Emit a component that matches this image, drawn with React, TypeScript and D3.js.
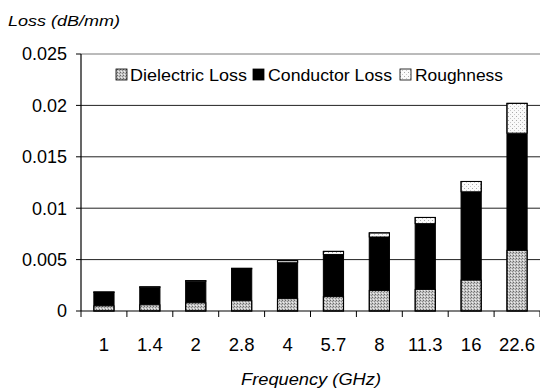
import React from 'react';
import * as d3 from 'd3';

// frequency categories (GHz)
const frequencies = ['1', '1.4', '2', '2.8', '4', '5.7', '8', '11.3', '16', '22.6'];
// stacked loss components (dB/mm)
const dielectricLoss = [0.0005, 0.0006, 0.0008, 0.001, 0.0012, 0.0014, 0.002, 0.0021, 0.003, 0.0059];
const conductorLoss = [0.0013, 0.0017, 0.0021, 0.0031, 0.0035, 0.0041, 0.0052, 0.0064, 0.0086, 0.0114];
const roughnessLoss = [0.00005, 0.00005, 0.00005, 0.00005, 0.0002, 0.0003, 0.0004, 0.0006, 0.001, 0.0029];
const yTicks = [0, 0.005, 0.01, 0.015, 0.02, 0.025];
const seriesNames = ['Dielectric Loss', 'Conductor Loss', 'Roughness'];

const W = 540;
const H = 388;
const margin = { top: 54, right: 0, bottom: 77, left: 81 };
const font = '"Liberation Sans", Arial, sans-serif';

const fills = ['url(#dielPat)', '#000', 'url(#roughPat)'];

export default function App() {
  const x = d3.scaleBand()
    .domain(frequencies)
    .range([margin.left, W - margin.right])
    .paddingInner(0.56)
    .paddingOuter(0.28);
  const y = d3.scaleLinear()
    .domain([0, 0.025])
    .range([H - margin.bottom, margin.top]);

  const rows = frequencies.map((f, i) => ({
    freq: f,
    diel: dielectricLoss[i],
    cond: conductorLoss[i],
    rough: roughnessLoss[i],
  }));
  const stack = d3.stack<any>().keys(['diel', 'cond', 'rough'])(rows);

  const step = x.step();
  const boundaries = frequencies.map((f) => (x(f) as number) - step * 0.28);
  boundaries.push(W - margin.right);

  // legend layout: swatch x, text x, text width
  const legend = [
    { sx: 116, tx: 130, tw: 117 },
    { sx: 253, tx: 268, tw: 124 },
    { sx: 400, tx: 415, tw: 88 },
  ];

  return (
    <svg width={W} height={H} style={{ position: 'absolute', left: 0, top: 0, background: '#fff' }}
      fontFamily={font}>
      <defs>
        <pattern id="dielPat" width="3" height="3" patternUnits="userSpaceOnUse">
          <rect width="3" height="3" fill="#c4c4c4" />
          <rect x="0" y="0" width="1" height="1" fill="#6a6a6a" />
          <rect x="2" y="1" width="1" height="1" fill="#8a8a8a" />
          <rect x="1" y="2" width="1" height="1" fill="#eee" />
        </pattern>
        <pattern id="roughPat" width="4" height="4" patternUnits="userSpaceOnUse">
          <rect width="4" height="4" fill="#fafafa" />
          <rect x="0" y="0" width="1" height="1" fill="#aaa" />
          <rect x="2" y="2" width="1" height="1" fill="#c8c8c8" />
        </pattern>
      </defs>

      <rect x={0} y={0} width={W} height={H} fill="#fff" />

      {/* gridlines */}
      {yTicks.filter((t) => t > 0).map((t) => (
        <line key={t} x1={margin.left} x2={W} y1={y(t)} y2={y(t)}
          stroke={t === 0.025 ? '#777' : '#222'} strokeWidth={1} />
      ))}

      {/* bars */}
      {stack.map((layer, si) => (
        <g key={si}>
          {layer.map((d, i) => (
            <rect key={i}
              x={x(frequencies[i])}
              width={x.bandwidth()}
              y={y(d[1])}
              height={Math.max(0, y(d[0]) - y(d[1]))}
              fill={fills[si]}
              stroke="#000"
              strokeWidth={si === 1 ? 0 : 1} />
          ))}
        </g>
      ))}
      {rows.map((r, i) => (
        <rect key={i} x={x(r.freq)} width={x.bandwidth()}
          y={y(r.diel + r.cond + r.rough)}
          height={y(0) - y(r.diel + r.cond + r.rough)}
          fill="none" stroke="#000" strokeWidth={1} />
      ))}

      {/* axes */}
      <line x1={margin.left} x2={margin.left} y1={margin.top} y2={y(0)} stroke="#000" strokeWidth={1.2} />
      <line x1={margin.left} x2={W} y1={y(0)} y2={y(0)} stroke="#000" strokeWidth={1.2} />
      {yTicks.map((t) => (
        <g key={t}>
          <line x1={margin.left - 5} x2={margin.left} y1={y(t)} y2={y(t)} stroke="#000" />
          <text x={67} y={y(t)} dy="0.36em" textAnchor="end" fontSize={18} fill="#000">
            {t === 0 ? '0' : String(t)}
          </text>
        </g>
      ))}
      {boundaries.map((b, i) => (
        <line key={i} x1={b} x2={b} y1={y(0)} y2={y(0) + 6} stroke="#000" />
      ))}
      {frequencies.map((f) => (
        <text key={f} x={(x(f) as number) + x.bandwidth() / 2} y={351}
          textAnchor="middle" fontSize={18.5} fill="#000">{f}</text>
      ))}

      {/* axis titles */}
      <text x={8} y={26} fontSize={15} fontStyle="italic" fill="#000"
        textLength={112} lengthAdjust="spacingAndGlyphs">Loss (dB/mm)</text>
      <text x={241} y={385} fontSize={16} fontStyle="italic" fill="#000"
        textLength={140} lengthAdjust="spacingAndGlyphs">Frequency (GHz)</text>

      {/* legend */}
      <rect x={110} y={64} width={398} height={22} fill="#fff" />
      {seriesNames.map((n, i) => (
        <g key={n}>
          <rect x={legend[i].sx} y={69} width={11} height={11} fill={fills[i]} stroke="#000" strokeWidth={0.8} />
          <text x={legend[i].tx} y={75} dy="0.36em" fontSize={17} fill="#000"
            textLength={legend[i].tw} lengthAdjust="spacingAndGlyphs">{n}</text>
        </g>
      ))}
    </svg>
  );
}
